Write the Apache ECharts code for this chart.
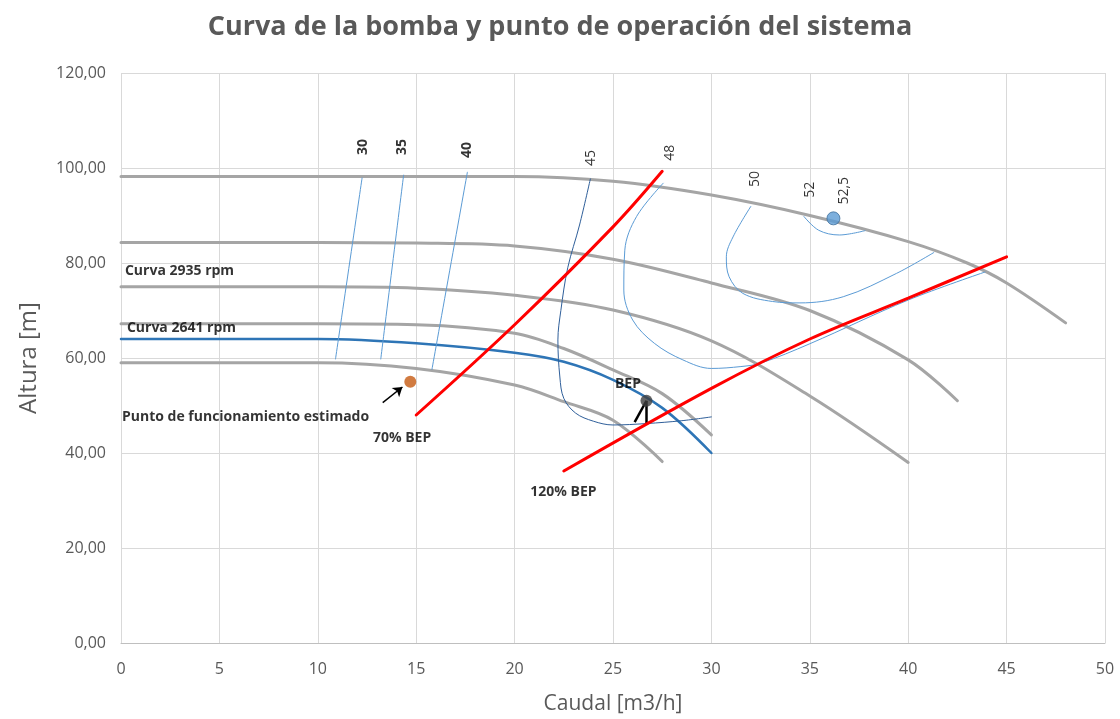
<!DOCTYPE html>
<html><head><meta charset="utf-8">
<script src="https://cdn.jsdelivr.net/npm/echarts@6/dist/echarts.min.js"></script>
<style>html,body{margin:0;padding:0;background:#fff}#c{width:1120px;height:719px}</style>
</head><body><div id="c"></div>
<script>
// Pump curves (Caudal m3/h, Altura m)
const curveA = [[0,98.2],[10,98.2],[20,98.2],[25,97.2],[30,94.3],[35,90],[40,84.5],[43,80],[45,75.8],[48,67.4]];
const curveB = [[0,84.3],[10,84.3],[15,84.2],[20,83.6],[25,80.8],[30,75.8],[35,70],[40,59.6],[42.5,51]];
const curveC = [[0,75],[10,75],[15,74.7],[20,73.2],[25,70.1],[30,63.6],[35,52],[40,38]];
const curveD = [[0,67.2],[10,67.2],[15,67],[20,65.2],[22.5,62],[25,57.5],[27.5,52.5],[30,43.8]];
const curveE = [[0,59],[10,59],[15,57.8],[20,54.3],[22.5,50.8],[25,46.9],[27.5,38.2]];
const curve2641 = [[0,64],[10,64],[15,63.1],[20,61.1],[22.5,59.2],[25,55.4],[27.5,49.5],[30,40]];
// Limit lines
const bep70 = [[15,48],[20,67],[25,87.6],[27.5,99.3]];
const bep120 = [[22.5,36.2],[30,53.6],[35,64],[40,72.6],[45,81.3]];
// Iso-efficiency curves
const eff30 = [[12.25,97.9],[10.9,59.8]];
const eff35 = [[14.36,98.5],[13.2,59.8]];
const eff40 = [[17.6,99.1],[15.8,57.6]];
const eff45 = [[23.85,97.7],[23.3,88],[22.7,79],[22.35,70],[22.2,63.8],[22.3,56],[22.5,51.5],[23.1,48.4],[24,46.7],[25,45.9],[26.7,46.2],[28.5,46.8],[30,47.6]];
const eff48 = [[27.55,96.8],[26.2,89.8],[25.6,82.7],[25.55,74.3],[26,68],[27.1,63.1],[28.55,59.6],[30,57.8],[31.5,58.2],[32.5,58.9],[35,63],[40,72.2],[43.9,78.1]];
const eff50 = [[32,91.9],[31.1,85.5],[30.76,81.3],[30.9,77.1],[31.6,73.6],[33.1,71.9],[34.5,71.6],[36.7,72.9],[39.4,77.8],[41.3,82.2]];
const eff52 = [[34.7,89.8],[35.45,86.9],[36.5,85.9],[37.8,86.8]];
const eff525 = [[36.2,89.4]];
const effLabels = [
  {t:'30', p:[12.3,104.4], bold:true},
  {t:'35', p:[14.3,104.4], bold:true},
  {t:'40', p:[17.6,103.8], bold:true},
  {t:'45', p:[23.9,102.1], bold:false},
  {t:'48', p:[27.9,103.2], bold:false},
  {t:'50', p:[32.2,97.7], bold:false},
  {t:'52', p:[35.0,95.4], bold:false},
  {t:'52,5', p:[36.75,95.2], bold:false}
];
const opPoint = [[14.7,55]];
const bepPoint = [[26.7,51]];
const textLabels = [
  {t:'Curva 2935 rpm', p:[0.2,78.3]},
  {t:'Curva 2641 rpm', p:[0.3,66.3]},
  {t:'Punto de funcionamiento estimado', p:[0.05,47.5]},
  {t:'70% BEP', p:[12.8,43.2]},
  {t:'120% BEP', p:[20.8,31.8]},
  {t:'BEP', p:[25.1,54.5]}
];
const FONT = "'Open Sans', sans-serif";
function ln(data, color, width, z){
  return {type:'line', data, smooth:0.35, symbol:'none', silent:true, z:z||2,
    lineStyle:{color, width, cap:'round'}};
}
const series = [
  ln(curveA,'#a5a5a5',3), ln(curveB,'#a5a5a5',3), ln(curveC,'#a5a5a5',3),
  ln(curveD,'#a5a5a5',3), ln(curveE,'#a5a5a5',3),
  ln(curve2641,'#2e75b6',2.5,3),
  ln(eff30,'#5b9bd5',1,4), ln(eff35,'#5b9bd5',1,4), ln(eff40,'#5b9bd5',1,4),
  ln(eff45,'#2f5f9a',1,4), ln(eff48,'#5b9bd5',1,4), ln(eff50,'#5b9bd5',1,4), ln(eff52,'#5b9bd5',1,4),
  ln(bep70,'#ff0000',3,5), ln(bep120,'#ff0000',3,5),
  {type:'scatter', data:eff525, symbolSize:13, z:6, itemStyle:{color:'#5b9bd5', borderColor:'#41719c', borderWidth:1}},
  {type:'scatter', data:opPoint, symbolSize:12, z:6, itemStyle:{color:'#c55a11'},
    markLine:{silent:true, symbol:['none','arrow'], symbolSize:9, label:{show:false},
      lineStyle:{color:'#000', width:1.5, type:'solid'},
      data:[[{coord:[13.3,50.6]},{coord:[14.3,53.9]}]]}},
  {type:'scatter', data:bepPoint, symbolSize:12, z:6, itemStyle:{color:'#404040'},
    markLine:{silent:true, symbol:['none','none'], label:{show:false},
      lineStyle:{color:'#000', width:2.5, type:'solid'},
      data:[[{coord:[26.1,46.5]},{coord:[26.7,51]}],[{coord:[26.7,51]},{coord:[26.7,45.9]}]]}},
  {type:'scatter', symbolSize:0, z:7, silent:true,
    data: effLabels.map(d=>({value:d.p, label:{show:true, formatter:d.t, rotate:90, position:'inside',
      fontFamily:FONT, fontSize:14, fontWeight:d.bold?'bold':'normal', color:'#000'}}))},
  {type:'scatter', symbolSize:0, z:7, silent:true,
    data: textLabels.map(d=>({value:d.p, label:{show:true, formatter:d.t, position:'right', distance:0,
      fontFamily:FONT, fontSize:14, fontWeight:'bold', color:'#000'}}))}
];
const chart = echarts.init(document.getElementById('c'), null, {renderer:'canvas'});
chart.setOption({
  animation:false,
  backgroundColor:'#fff',
  title:{text:'Curva de la bomba y punto de operación del sistema', left:'center', top:9,
    textStyle:{fontFamily:FONT, fontSize:27, fontWeight:'bold', color:'#595959'}},
  grid:{left:121, right:15, top:73, bottom:76, containLabel:false, outerBoundsMode:'none'},
  xAxis:{type:'value', min:0, max:50, interval:5, name:'Caudal [m3/h]', nameLocation:'middle', nameGap:51,
    nameTextStyle:{fontFamily:FONT, fontSize:21, color:'#595959'},
    axisLine:{lineStyle:{color:'#bfbfbf'}}, axisTick:{show:false},
    axisLabel:{fontFamily:FONT, fontSize:16, color:'#595959', margin:18},
    splitLine:{lineStyle:{color:'#d9d9d9'}}},
  yAxis:{type:'value', min:0, max:120, interval:20, name:'Altura [m]', nameLocation:'middle', nameGap:80,
    nameTextStyle:{fontFamily:FONT, fontSize:24, color:'#595959'},
    axisLine:{show:false}, axisTick:{show:false},
    axisLabel:{fontFamily:FONT, fontSize:16, color:'#595959', margin:15, formatter:v=>v.toFixed(2).replace('.',',')},
    splitLine:{lineStyle:{color:'#d9d9d9'}}},
  series
});
</script></body></html>
